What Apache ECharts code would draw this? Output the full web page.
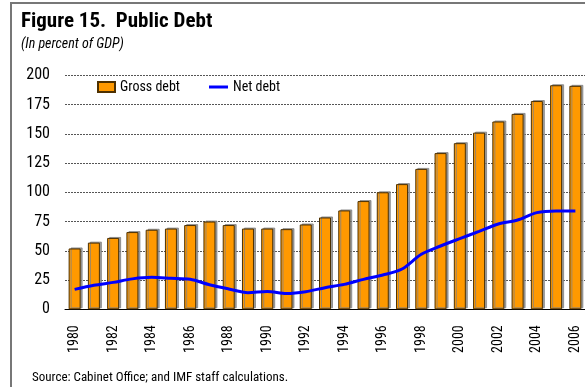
<!DOCTYPE html>
<html>
<head>
<meta charset="utf-8">
<script src="https://cdn.jsdelivr.net/npm/echarts@6/dist/echarts.min.js"></script>
<style>
  html, body { margin: 0; padding: 0; background: #fff; }
  #chart { width: 585px; height: 387px; }
</style>
</head>
<body>
<div id="chart"></div>
<script>
// Public debt, percent of GDP, 1980-2006
const years = ['1980','1981','1982','1983','1984','1985','1986','1987','1988','1989',
  '1990','1991','1992','1993','1994','1995','1996','1997','1998','1999',
  '2000','2001','2002','2003','2004','2005','2006'];
const grossDebt = [52, 57, 61, 66, 68, 69, 72, 75, 72, 69,
  69, 68.5, 72.5, 78.5, 84.5, 92.5, 100, 107, 120, 133.5,
  142, 151, 160.5, 167, 178, 191.5, 191];
const netDebt = [17, 20.5, 23, 26, 27.3, 26.5, 25.6, 21, 17.4, 14.2,
  15.3, 13.5, 15, 18.5, 21.3, 25.6, 29.3, 34.4, 47, 54.1,
  60.4, 66.6, 72.9, 76.3, 82.6, 84, 84];
const yTicks = { min: 0, max: 200, step: 25 };

const FONT = '"Roboto Condensed", "DejaVu Sans Condensed", sans-serif';

const chart = echarts.init(document.getElementById('chart'), null, { renderer: 'canvas' });
chart.setOption({
  animation: false,
  backgroundColor: '#fff',
  graphic: [
    // frame
    { type: 'line', shape: { x1: 11, y1: 3, x2: 11, y2: 387 }, style: { stroke: '#777', lineWidth: 2 } },
    { type: 'line', shape: { x1: 10, y1: 3, x2: 585, y2: 3 }, style: { stroke: '#777', lineWidth: 2 } },
    // headings and source note
    { type: 'text', left: 21, top: 11, style: { text: 'Figure 15.  Public Debt', font: 'bold 21px ' + FONT, fill: '#000' } },
    { type: 'text', left: 21, top: 37, style: { text: '(In percent of GDP)', font: 'italic 14px ' + FONT, fill: '#000' } },
    { type: 'text', left: 32, top: 371, style: { text: 'Source: Cabinet Office; and IMF staff calculations.', font: '13px ' + FONT, fill: '#000' } }
  ],
  legend: [
    {
      left: 97, top: 80, padding: 0,
      itemWidth: 17, itemHeight: 10,
      textStyle: { fontFamily: FONT, fontSize: 14, color: '#000' },
      data: [{ name: 'Gross debt', icon: 'rect' }]
    },
    {
      left: 209, top: 80, padding: 0,
      itemWidth: 19, itemHeight: 3,
      textStyle: { fontFamily: FONT, fontSize: 14, color: '#000' },
      data: [{ name: 'Net debt', icon: 'rect' }]
    }
  ],
  grid: { left: 65, width: 523, top: 75.3, height: 234, containLabel: false },
  xAxis: {
    type: 'category',
    data: years,
    boundaryGap: true,
    axisLine: { lineStyle: { color: '#000', width: 1 } },
    axisTick: { length: 4, interval: 0, lineStyle: { color: '#000' } },
    axisLabel: { interval: 1, rotate: 90, fontFamily: FONT, fontSize: 14, color: '#000', margin: 16 }
  },
  yAxis: {
    type: 'value',
    min: yTicks.min, max: yTicks.max, interval: yTicks.step,
    axisLine: { show: false },
    axisTick: { show: false },
    axisLabel: { fontFamily: FONT, fontSize: 16, color: '#000', margin: 15 },
    splitLine: { lineStyle: { color: '#555', type: [2, 1], width: 1 } }
  },
  series: [
    {
      name: 'Gross debt',
      type: 'bar',
      data: grossDebt,
      barWidth: 12,
      itemStyle: {
        color: '#FF9900',
        borderColor: '#4d3000',
        borderWidth: 1,
        shadowColor: 'rgba(130,130,130,0.8)',
        shadowOffsetX: 2,
        shadowOffsetY: -1,
        shadowBlur: 0
      },
      z: 2
    },
    {
      name: 'Net debt',
      type: 'line',
      data: netDebt,
      smooth: 0.3,
      symbol: 'none',
      lineStyle: { color: '#0000FF', width: 3 },
      itemStyle: { color: '#0000FF' },
      z: 3
    }
  ]
});
</script>
</body>
</html>
